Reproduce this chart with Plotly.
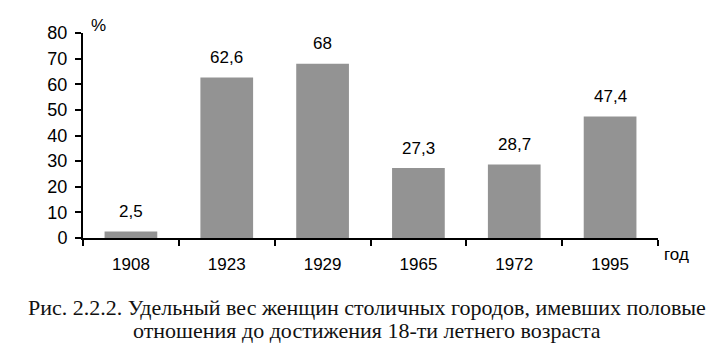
import plotly.graph_objects as go

years = ["1908", "1923", "1929", "1965", "1972", "1995"]
values = [2.5, 62.6, 68, 27.3, 28.7, 47.4]
value_labels = ["2,5", "62,6", "68", "27,3", "28,7", "47,4"]
y_ticks = [0, 10, 20, 30, 40, 50, 60, 70, 80]
caption_lines = [
    "Рис. 2.2.2. Удельный вес женщин столичных городов, имевших половые",
    "отношения до достижения 18-ти летнего возраста",
]

W, H = 719, 355
L, R, T, B = 83, 61, 33, 117

fig = go.Figure()
fig.add_trace(go.Bar(
    x=years, y=values,
    marker=dict(color="#939393", line=dict(width=0)),
))
# category index positions for value labels (numeric-looking category names)
for i, (v, lab) in enumerate(zip(values, value_labels)):
    fig.add_annotation(x=i, y=v, text=lab, showarrow=False, yanchor="middle",
                       yshift=20, font=dict(size=17, color="black"))

fig.update_layout(
    width=W, height=H, margin=dict(l=L, r=R, t=T, b=B),
    plot_bgcolor="white", paper_bgcolor="white",
    bargap=0.45, showlegend=False,
    font=dict(family="Liberation Sans, Arial", size=17, color="black"),
)
fig.update_yaxes(
    range=[0, 80], tickvals=y_ticks, showgrid=False, zeroline=False,
    showline=True, linecolor="black", linewidth=2,
    ticks="outside", ticklen=6, tickwidth=2, tickcolor="black",
    tickfont=dict(size=18), ticklabelstandoff=4,
)
fig.update_xaxes(
    type="category", range=[-0.5, len(years) - 0.5],
    showgrid=False, showline=True, linecolor="black", linewidth=2,
    ticks="outside", ticklen=6, tickwidth=2, tickcolor="black", tickson="boundaries",
    tickfont=dict(size=17), ticklabelstandoff=10,
)

pw = W - L - R
ph = H - T - B
def px_x(x):
    return (x - L) / pw
def px_y(y):
    return (H - B - y) / ph

fig.add_annotation(text="%", x=px_x(98), y=px_y(26), xref="paper", yref="paper",
                   showarrow=False, font=dict(size=17), xanchor="center", yanchor="middle")
fig.add_annotation(text="год", x=px_x(662), y=px_y(254), xref="paper", yref="paper",
                   showarrow=False, font=dict(size=17), xanchor="left", yanchor="middle")
for i, line in enumerate(caption_lines):
    fig.add_annotation(text=line, x=px_x(367), y=px_y(307 + 23 * i), xref="paper", yref="paper",
                       showarrow=False, xanchor="center", yanchor="middle",
                       font=dict(family="Liberation Serif, serif", size=22, color="#111"))

fig.write_html("out.html")
